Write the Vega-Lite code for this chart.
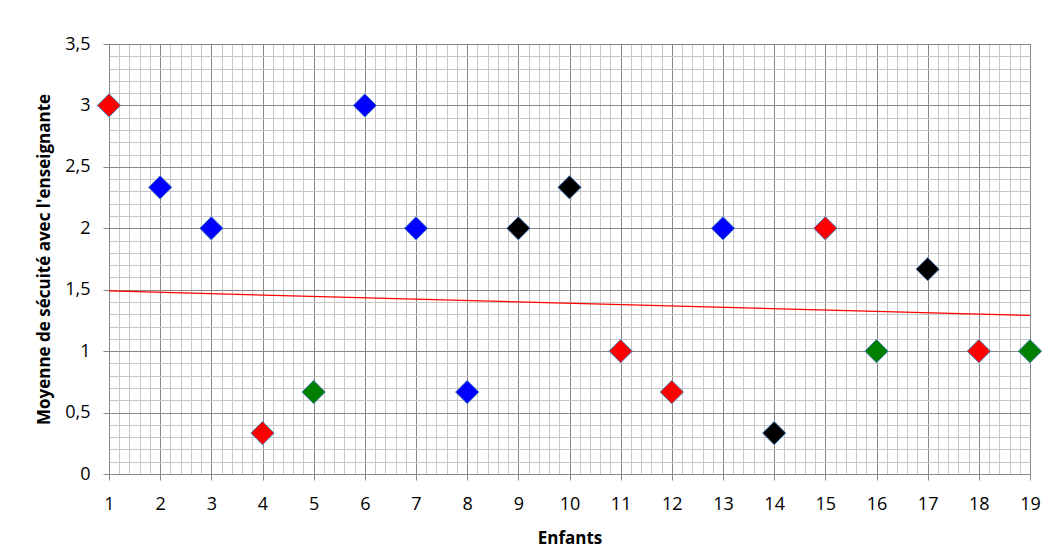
{
  "$schema": "https://vega.github.io/schema/vega-lite/v6.json",
  "width": 921,
  "height": 430,
  "autosize": {"type": "none"},
  "padding": {"left": 109, "top": 44, "right": 21, "bottom": 82},
  "background": "white",
  "config": {
    "view": {"stroke": "#888888"},
    "axis": {
      "labelFont": "Open Sans",
      "labelFontSize": 18,
      "labelColor": "#000000",
      "titleFont": "Open Sans",
      "titleFontSize": 17,
      "titleFontWeight": "bold",
      "titleColor": "#000000",
      "domainColor": "#888888",
      "tickColor": "#888888",
      "tickSize": 6,
      "labelOverlap": false,
      "labelFlush": false
    }
  },
  "layer": [
    {
      "data": {"values": [
        {"enfant": 1, "moyenne": 1.49},
        {"enfant": 19, "moyenne": 1.29}
      ]},
      "mark": {"type": "line", "color": "#ff0000", "strokeWidth": 1.2},
      "encoding": {
        "x": {"field": "enfant", "type": "quantitative"},
        "y": {"field": "moyenne", "type": "quantitative"}
      }
    },
    {
      "data": {"values": [
        {"enfant": 1, "moyenne": 3, "groupe": "G1"},
        {"enfant": 2, "moyenne": 2.333, "groupe": "G2"},
        {"enfant": 3, "moyenne": 2, "groupe": "G2"},
        {"enfant": 4, "moyenne": 0.333, "groupe": "G1"},
        {"enfant": 5, "moyenne": 0.667, "groupe": "G3"},
        {"enfant": 6, "moyenne": 3, "groupe": "G2"},
        {"enfant": 7, "moyenne": 2, "groupe": "G2"},
        {"enfant": 8, "moyenne": 0.667, "groupe": "G2"},
        {"enfant": 9, "moyenne": 2, "groupe": "G4"},
        {"enfant": 10, "moyenne": 2.333, "groupe": "G4"},
        {"enfant": 11, "moyenne": 1, "groupe": "G1"},
        {"enfant": 12, "moyenne": 0.667, "groupe": "G1"},
        {"enfant": 13, "moyenne": 2, "groupe": "G2"},
        {"enfant": 14, "moyenne": 0.333, "groupe": "G4"},
        {"enfant": 15, "moyenne": 2, "groupe": "G1"},
        {"enfant": 16, "moyenne": 1, "groupe": "G3"},
        {"enfant": 17, "moyenne": 1.667, "groupe": "G4"},
        {"enfant": 18, "moyenne": 1, "groupe": "G1"},
        {"enfant": 19, "moyenne": 1, "groupe": "G3"}
      ]},
      "mark": {"type": "point", "shape": "diamond", "filled": true, "size": 540, "stroke": "#4a7ebb", "strokeWidth": 1, "opacity": 1},
      "encoding": {
        "x": {
          "field": "enfant", "type": "quantitative",
          "scale": {"domain": [1, 19], "nice": false, "zero": false},
          "axis": {
            "title": "Enfants",
            "titlePadding": 17,
            "labelPadding": 15,
            "tickCount": 200,
            "values": [1,1.2,1.4,1.6,1.8,2,2.2,2.4,2.6,2.8,3,3.2,3.4,3.6,3.8,4,4.2,4.4,4.6,4.8,5,5.2,5.4,5.6,5.8,6,6.2,6.4,6.6,6.8,7,7.2,7.4,7.6,7.8,8,8.2,8.4,8.6,8.8,9,9.2,9.4,9.6,9.8,10,10.2,10.4,10.6,10.8,11,11.2,11.4,11.6,11.8,12,12.2,12.4,12.6,12.8,13,13.2,13.4,13.6,13.8,14,14.2,14.4,14.6,14.8,15,15.2,15.4,15.6,15.8,16,16.2,16.4,16.6,16.8,17,17.2,17.4,17.6,17.8,18,18.2,18.4,18.6,18.8,19],
            "grid": true,
            "gridColor": {"condition": {"test": "abs(datum.value - round(datum.value)) < 1e-6", "value": "#888888"}, "value": "#c6c6c6"},
            "tickOpacity": {"condition": {"test": "abs(datum.value - round(datum.value)) < 1e-6", "value": 1}, "value": 0},
            "labelExpr": "abs(datum.value - round(datum.value)) < 1e-6 ? format(datum.value, 'd') : ''"
          }
        },
        "y": {
          "field": "moyenne", "type": "quantitative",
          "scale": {"domain": [0, 3.5], "nice": false},
          "axis": {
            "title": "Moyenne de sécuité avec l'enseignante",
            "titlePadding": 11,
            "labelPadding": 13,
            "tickCount": 100,
            "values": [0,0.1,0.2,0.3,0.4,0.5,0.6,0.7,0.8,0.9,1,1.1,1.2,1.3,1.4,1.5,1.6,1.7,1.8,1.9,2,2.1,2.2,2.3,2.4,2.5,2.6,2.7,2.8,2.9,3,3.1,3.2,3.3,3.4,3.5],
            "grid": true,
            "gridColor": {"condition": {"test": "abs(datum.value*2 - round(datum.value*2)) < 1e-6", "value": "#888888"}, "value": "#c6c6c6"},
            "tickOpacity": {"condition": {"test": "abs(datum.value*2 - round(datum.value*2)) < 1e-6", "value": 1}, "value": 0},
            "labelExpr": "abs(datum.value*2 - round(datum.value*2)) < 1e-6 ? replace(format(datum.value, '.1~f'), '.', ',') : ''"
          }
        },
        "color": {
          "field": "groupe", "type": "nominal", "legend": null,
          "scale": {"domain": ["G1", "G2", "G3", "G4"], "range": ["#ff0000", "#0000ff", "#008000", "#000000"]}
        }
      }
    }
  ]
}
